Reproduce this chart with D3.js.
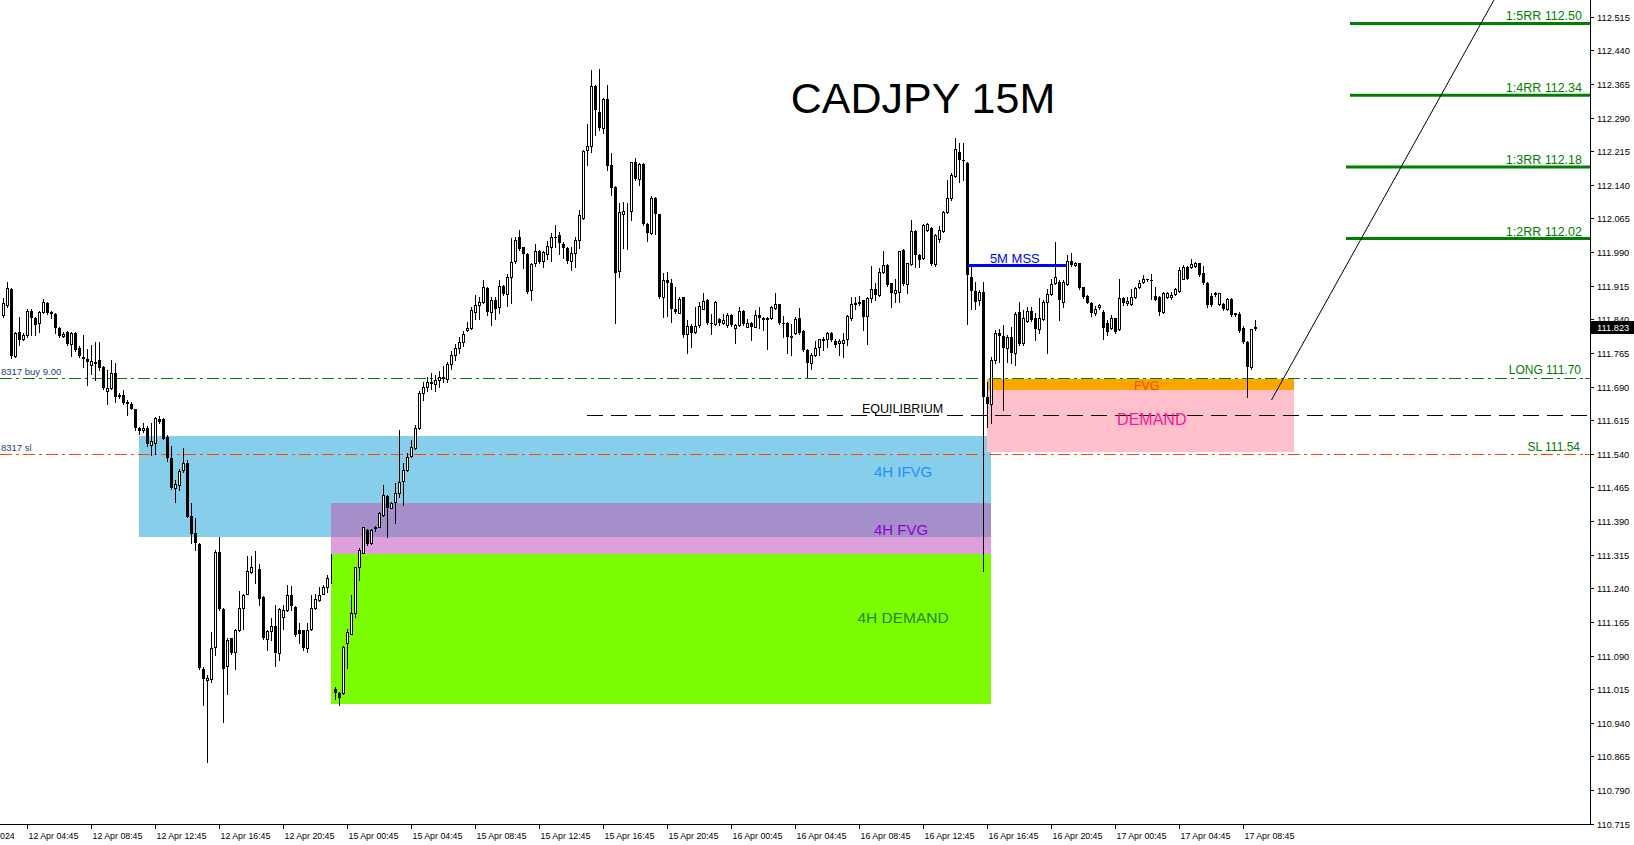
<!DOCTYPE html>
<html><head><meta charset="utf-8">
<script src="https://cdn.jsdelivr.net/npm/d3@7"></script>
<style>
body{margin:0;background:#fff;}
svg{display:block;}
text{font-family:"Liberation Sans",Arial,sans-serif;}
</style>
</head><body>
<svg id="c" width="1634" height="845"></svg>
<script>
// ---------- DATA (CADJPY 15M candles) ----------
const open=[
111.850,111.872,111.907,111.758,111.812,111.795,111.805,111.858,111.842,111.831,
111.857,111.876,111.857,111.851,111.820,111.803,111.811,111.786,111.809,111.777,
111.755,111.751,111.739,111.745,111.749,111.734,111.681,111.686,111.721,111.671,
111.672,111.656,111.652,111.639,111.597,111.592,111.598,111.560,111.565,111.617,
111.617,111.578,111.530,111.463,111.470,111.504,111.519,111.401,111.364,111.339,
111.061,111.036,111.037,111.109,111.321,111.193,111.066,111.128,111.098,111.147,
111.195,111.228,111.277,111.282,111.284,111.221,111.126,111.145,111.156,111.096,
111.175,111.191,111.225,111.199,111.148,111.147,111.106,111.150,111.195,111.214,
111.228,111.242,111.263,111.016,111.007,111.007,111.117,111.139,111.184,111.288,
111.319,111.371,111.340,111.375,111.377,111.403,111.446,111.420,111.433,111.453,
111.480,111.504,111.534,111.552,111.597,111.675,111.690,111.700,111.695,111.705,
111.712,111.706,111.740,111.760,111.775,111.790,111.816,111.820,111.857,111.872,
111.878,111.909,111.857,111.884,111.867,111.914,111.896,111.935,111.969,112.023,
112.001,111.986,111.905,111.965,111.993,111.971,111.986,112.001,112.023,112.028,
112.008,111.998,111.971,111.987,112.018,112.065,112.218,112.227,112.361,112.303,
112.266,112.331,112.184,112.136,111.948,112.076,112.079,112.082,112.190,112.152,
112.186,112.053,112.032,112.111,112.075,111.889,111.928,111.922,111.864,111.855,
111.889,111.808,111.825,111.812,111.828,111.864,111.884,111.832,111.829,111.840,
111.832,111.827,111.849,111.820,111.827,111.859,111.823,111.831,111.823,111.849,
111.842,111.840,111.842,111.866,111.874,111.832,111.831,111.801,111.810,111.842,
111.814,111.771,111.743,111.760,111.779,111.794,111.795,111.810,111.792,111.788,
111.788,111.795,111.842,111.874,111.877,111.883,111.847,111.887,111.907,111.894,
111.946,111.961,111.920,111.898,111.901,111.994,111.919,111.963,112.037,111.983,
111.976,112.039,112.043,111.963,112.020,112.038,112.080,112.110,112.160,112.214,
112.195,112.189,111.935,111.904,111.882,111.902,111.667,111.652,111.750,111.810,
111.802,111.775,111.801,111.764,111.857,111.788,111.837,111.859,111.842,111.818,
111.840,111.879,111.896,111.920,111.924,111.879,111.919,111.969,111.961,111.965,
111.911,111.892,111.877,111.855,111.867,111.857,111.831,111.820,111.842,111.818,
111.887,111.876,111.874,111.889,111.911,111.924,111.929,111.928,111.892,111.889,
111.857,111.889,111.889,111.896,111.904,111.931,111.956,111.956,111.959,111.965,
111.943,111.922,111.892,111.898,111.874,111.874,111.862,111.885,111.853,111.852,
111.820,111.790,111.733,111.820];
const high=[
111.887,111.924,111.909,111.812,111.846,111.809,111.862,111.862,111.846,111.859,
111.885,111.879,111.859,111.853,111.822,111.812,111.814,111.812,111.811,111.780,
111.805,111.773,111.783,111.790,111.790,111.736,111.727,111.749,111.742,111.675,
111.682,111.660,111.656,111.641,111.600,111.609,111.601,111.609,111.622,111.624,
111.619,111.582,111.557,111.481,111.507,111.552,111.526,111.431,111.396,111.340,
111.065,111.046,111.143,111.325,111.355,111.195,111.128,111.130,111.150,111.234,
111.228,111.312,111.312,111.324,111.294,111.222,111.147,111.173,111.202,111.195,
111.202,111.247,111.245,111.200,111.162,111.148,111.163,111.225,111.228,111.243,
111.247,111.269,111.316,111.019,111.009,111.111,111.150,111.225,111.288,111.329,
111.377,111.373,111.373,111.379,111.411,111.470,111.448,111.433,111.474,111.592,
111.520,111.541,111.571,111.604,111.679,111.700,111.712,111.720,111.715,111.725,
111.735,111.745,111.770,111.785,111.800,111.815,111.835,111.868,111.894,111.890,
111.928,111.913,111.889,111.890,111.928,111.916,111.941,112.021,112.024,112.039,
112.002,111.987,111.965,112.008,111.995,111.992,112.015,112.033,112.050,112.035,
112.013,112.002,112.002,112.024,112.084,112.218,112.276,112.396,112.363,112.398,
112.333,112.363,112.210,112.137,112.099,112.102,112.099,112.192,112.199,112.188,
112.188,112.054,112.114,112.112,112.076,111.944,111.946,111.931,111.911,111.890,
111.890,111.838,111.829,111.868,111.879,111.898,111.886,111.852,111.881,111.842,
111.852,111.853,111.851,111.829,111.868,111.861,111.840,111.834,111.860,111.868,
111.846,111.846,111.869,111.898,111.875,111.847,111.834,111.829,111.846,111.866,
111.817,111.773,111.764,111.792,111.797,111.800,111.812,111.812,111.795,111.797,
111.810,111.850,111.890,111.890,111.892,111.884,111.889,111.959,111.920,111.954,
111.993,111.963,111.922,111.929,111.993,111.996,111.966,112.061,112.039,111.985,
112.052,112.054,112.045,112.030,112.048,112.082,112.151,112.166,112.244,112.233,
112.233,112.192,111.957,111.924,111.905,111.924,111.700,111.755,111.816,111.819,
111.827,111.805,111.823,111.857,111.879,111.861,111.868,111.868,111.853,111.887,
111.883,111.907,111.931,112.013,111.928,111.928,111.983,111.989,111.968,111.966,
111.913,111.894,111.879,111.870,111.874,111.861,111.838,111.849,111.844,111.929,
111.890,111.890,111.907,111.911,111.928,111.939,111.931,111.942,111.913,111.892,
111.902,111.902,111.902,111.909,111.956,111.961,111.959,111.974,111.968,111.966,
111.959,111.924,111.899,111.902,111.899,111.877,111.887,111.887,111.855,111.857,
111.824,111.792,111.819,111.838];
const low=[
111.846,111.868,111.753,111.757,111.783,111.794,111.801,111.805,111.805,111.812,
111.855,111.852,111.842,111.809,111.801,111.800,111.783,111.758,111.769,111.755,
111.733,111.693,111.719,111.704,111.727,111.684,111.652,111.684,111.656,111.664,
111.652,111.626,111.639,111.594,111.585,111.589,111.558,111.538,111.540,111.608,
111.572,111.525,111.462,111.433,111.459,111.500,111.398,111.340,111.325,111.061,
110.979,110.853,111.031,111.091,111.191,110.942,111.005,111.094,111.061,111.145,
111.150,111.227,111.275,111.251,111.202,111.126,111.103,111.124,111.066,111.080,
111.150,111.190,111.191,111.133,111.117,111.103,111.098,111.148,111.193,111.212,
111.227,111.232,111.251,110.994,110.979,111.005,111.063,111.138,111.175,111.258,
111.318,111.336,111.339,111.368,111.376,111.402,111.355,111.418,111.386,111.444,
111.426,111.502,111.532,111.551,111.595,111.660,111.680,111.685,111.680,111.690,
111.700,111.700,111.730,111.750,111.765,111.780,111.814,111.818,111.840,111.840,
111.876,111.850,111.827,111.840,111.853,111.894,111.870,111.876,111.966,111.995,
111.954,111.899,111.882,111.959,111.965,111.956,111.974,111.969,112.002,111.986,
111.976,111.965,111.951,111.957,111.998,112.063,112.184,112.214,112.251,112.262,
112.255,112.172,112.117,111.831,111.935,111.998,111.996,112.062,112.151,112.140,
112.050,112.015,112.030,112.030,111.887,111.846,111.847,111.834,111.855,111.853,
111.801,111.765,111.779,111.809,111.823,111.862,111.829,111.808,111.827,111.827,
111.829,111.823,111.825,111.788,111.825,111.827,111.822,111.794,111.822,111.820,
111.816,111.773,111.840,111.864,111.829,111.801,111.764,111.760,111.808,111.808,
111.770,111.712,111.730,111.758,111.760,111.771,111.779,111.792,111.779,111.760,
111.756,111.782,111.838,111.864,111.871,111.816,111.786,111.879,111.883,111.892,
111.944,111.914,111.868,111.879,111.879,111.916,111.898,111.961,111.957,111.957,
111.974,112.038,111.961,111.959,112.013,112.035,112.078,112.106,112.158,112.147,
112.150,111.829,111.862,111.862,111.872,111.278,111.600,111.608,111.743,111.745,
111.637,111.745,111.742,111.738,111.783,111.783,111.835,111.836,111.794,111.809,
111.838,111.764,111.894,111.918,111.838,111.868,111.917,111.959,111.959,111.907,
111.888,111.876,111.847,111.850,111.864,111.795,111.805,111.818,111.810,111.816,
111.873,111.872,111.872,111.887,111.909,111.922,111.925,111.885,111.883,111.850,
111.855,111.887,111.885,111.894,111.902,111.929,111.929,111.954,111.957,111.937,
111.919,111.868,111.870,111.892,111.872,111.861,111.861,111.847,111.847,111.812,
111.788,111.666,111.730,111.817];
const close=[
111.876,111.909,111.758,111.810,111.794,111.805,111.858,111.842,111.827,111.857,
111.879,111.853,111.851,111.820,111.803,111.807,111.786,111.809,111.771,111.758,
111.751,111.745,111.748,111.740,111.731,111.686,111.686,111.721,111.666,111.666,
111.654,111.652,111.641,111.597,111.591,111.598,111.561,111.568,111.619,111.612,
111.574,111.530,111.464,111.473,111.502,111.519,111.400,111.362,111.340,111.063,
111.037,111.039,111.106,111.321,111.193,111.061,111.124,111.096,111.148,111.196,
111.226,111.279,111.287,111.282,111.217,111.128,111.145,111.156,111.096,111.193,
111.191,111.225,111.200,111.135,111.139,111.106,111.148,111.195,111.215,111.225,
111.242,111.262,111.264,111.007,110.996,111.109,111.143,111.185,111.287,111.325,
111.376,111.339,111.371,111.376,111.407,111.448,111.418,111.431,111.453,111.478,
111.504,111.532,111.556,111.597,111.675,111.690,111.700,111.695,111.705,111.712,
111.706,111.740,111.760,111.775,111.790,111.808,111.820,111.861,111.872,111.878,
111.911,111.857,111.882,111.864,111.914,111.896,111.935,111.968,112.018,111.996,
111.985,111.902,111.963,111.992,111.967,111.990,112.004,112.023,112.021,112.010,
111.998,111.971,111.987,112.018,112.073,112.216,112.227,112.361,112.307,112.266,
112.331,112.181,112.132,111.944,112.079,112.081,112.079,112.190,112.152,112.186,
112.052,112.032,112.111,112.074,111.890,111.928,111.922,111.864,111.857,111.886,
111.806,111.825,111.810,111.825,111.869,111.881,111.831,111.829,111.879,111.831,
111.838,111.849,111.827,111.827,111.859,111.829,111.832,111.822,111.849,111.842,
111.838,111.842,111.868,111.875,111.831,111.831,111.800,111.802,111.840,111.810,
111.771,111.743,111.760,111.775,111.795,111.795,111.810,111.794,111.782,111.792,
111.794,111.847,111.874,111.877,111.879,111.846,111.887,111.907,111.894,111.946,
111.961,111.916,111.898,111.905,111.992,111.919,111.965,112.037,111.983,111.972,
112.050,112.052,111.963,112.028,112.039,112.080,112.110,112.162,112.221,112.195,
112.194,111.939,111.904,111.879,111.902,111.667,111.652,111.750,111.810,111.802,
111.775,111.801,111.764,111.852,111.786,111.844,111.859,111.838,111.818,111.842,
111.879,111.896,111.919,111.934,111.882,111.924,111.969,111.961,111.966,111.909,
111.890,111.877,111.853,111.864,111.872,111.820,111.812,111.842,111.812,111.887,
111.876,111.880,111.890,111.909,111.922,111.929,111.928,111.925,111.884,111.857,
111.899,111.899,111.894,111.907,111.951,111.956,111.931,111.963,111.966,111.939,
111.920,111.872,111.872,111.894,111.898,111.862,111.885,111.850,111.850,111.815,
111.790,111.733,111.818,111.823];

const priceTicks=[112.515,112.440,112.365,112.290,112.215,112.140,112.065,111.990,111.915,111.840,
111.765,111.690,111.615,111.540,111.465,111.390,111.315,111.240,111.165,111.090,111.015,110.940,110.865,110.790,110.715];
const timeLabels=["12 Apr 04:45","12 Apr 08:45","12 Apr 12:45","12 Apr 16:45","12 Apr 20:45",
"15 Apr 00:45","15 Apr 04:45","15 Apr 08:45","15 Apr 12:45","15 Apr 16:45","15 Apr 20:45",
"16 Apr 00:45","16 Apr 04:45","16 Apr 08:45","16 Apr 12:45","16 Apr 16:45","16 Apr 20:45",
"17 Apr 00:45","17 Apr 04:45","17 Apr 08:45"];
const firstDateLabel="024";   // visible tail of the first (cut) date label
const firstLabelBar=6, barsPerLabel=16;
const lastPrice=111.823;

// zones: bar index range and price range
const zones=[
 {i0:33.9,i1:246.9,p0:111.5806,p1:111.355,fill:"#87CEEB"},
 {i0:81.9,i1:246.9,p0:111.430,p1:111.317,fill:"#DDA0DD"},
 {i0:81.9,i1:246.9,p0:111.430,p1:111.355,fill:"#A58FCB"},
 {i0:81.9,i1:246.9,p0:111.317,p1:110.9825,fill:"#7CFC00"},
 {i0:245.9,i1:322.6,p0:111.683,p1:111.544,fill:"#FFC0CB"},
 {i0:245.9,i1:322.6,p0:111.707,p1:111.683,fill:"#FFA500"}
];
const zoneLabels=[
 {t:"4H IFVG",i:224.9,p:111.500,size:15,fill:"#1E90FF",anchor:"middle"},
 {t:"4H FVG",i:224.4,p:111.372,size:15,fill:"#9400D3",anchor:"middle"},
 {t:"4H DEMAND",i:224.9,p:111.174,size:15.5,fill:"#228B22",anchor:"middle"},
 {t:"FVG",i:282.6,p:111.692,size:12.5,fill:"#FF4500",anchor:"start"},
 {t:"DEMAND",i:278.4,p:111.618,size:16,fill:"#FF1493",anchor:"start"},
 {t:"EQUILIBRIUM",i:214.6,p:111.640,size:12.5,fill:"#000",anchor:"start"},
 {t:"5M MSS",i:246.6,p:111.975,size:13,fill:"#0000FF",anchor:"start"}
];
const rrLevels=[
 {t:"1:5RR 112.50",p:112.50,i0:336.6},
 {t:"1:4RR 112.34",p:112.34,i0:336.6},
 {t:"1:3RR 112.18",p:112.18,i0:335.6},
 {t:"1:2RR 112.02",p:112.02,i0:335.6}
];
const longLevel={t:"LONG 111.70",p:111.708,tag:"8317 buy 9.00"};
const slLevel={t:"SL 111.54",p:111.540,tag:"8317 sl"};
const equilibrium={p:111.6265,i0:145.9};
const mss={p:111.960,i0:241.1,i1:265.6};
const trend=[{i:317.0,p:111.660},{i:372.6,p:112.552}];

// ---------- DRAW ----------
const W=1634,H=845, R=1590, B=824;
const svg=d3.select("#c");
const x=d3.scaleLinear().domain([0,1]).range([3.5,7.5]);
const y=d3.scaleLinear().domain([110.715,112.515]).range([823.65,16.7]);
const ry=p=>Math.round(y(p));

svg.append("defs").append("clipPath").attr("id","clip")
  .append("rect").attr("x",0).attr("y",0).attr("width",R).attr("height",B);
const g=svg.append("g").attr("clip-path","url(#clip)");

// zones
g.selectAll("rect.zone").data(zones).enter().append("rect")
 .attr("x",d=>Math.round(x(d.i0))).attr("width",d=>Math.round(x(d.i1))-Math.round(x(d.i0)))
 .attr("y",d=>ry(d.p0)).attr("height",d=>ry(d.p1)-ry(d.p0))
 .attr("fill",d=>d.fill);

// level lines
function hline(p,x0,x1,color,dash,w){
  g.append("line").attr("x1",x0).attr("x2",x1)
   .attr("y1",ry(p)+0.5).attr("y2",ry(p)+0.5)
   .attr("stroke",color).attr("stroke-width",w||1)
   .attr("stroke-dasharray",dash||null).attr("shape-rendering","crispEdges");
}
hline(longLevel.p,0,R,"#008000","12,4,3,4");
hline(slLevel.p,0,R,"#FF4500","12,4,3,4");
hline(equilibrium.p,Math.round(x(equilibrium.i0)),R,"#000","16,8");

// candles
const idx=d3.range(close.length);
const cg=g.append("g").attr("shape-rendering","crispEdges");
cg.selectAll("line.w").data(idx).enter().append("line")
 .attr("x1",i=>x(i)).attr("x2",i=>x(i))
 .attr("y1",i=>ry(high[i])).attr("y2",i=>ry(low[i])+1)
 .attr("stroke","#000").attr("stroke-width",1);
cg.selectAll("rect.b").data(idx).enter().append("rect")
 .each(function(i){
   const up=close[i]>=open[i];
   const t=ry(Math.max(open[i],close[i])), b=ry(Math.min(open[i],close[i]));
   const s=d3.select(this);
   if(up){
     s.attr("x",x(i)-1).attr("width",2).attr("y",t+0.5).attr("height",Math.max(b-t,0))
      .attr("fill","#fff").attr("stroke","#000").attr("stroke-width",1);
   } else {
     s.attr("x",x(i)-1.5).attr("width",3).attr("y",t).attr("height",Math.max(b-t,1))
      .attr("fill","#000");
   }
 });

// MSS line
g.append("line").attr("x1",x(mss.i0)).attr("x2",x(mss.i1))
 .attr("y1",y(mss.p)).attr("y2",y(mss.p)).attr("stroke","#0000FF").attr("stroke-width",3);

// RR lines
rrLevels.forEach(d=>{
  g.append("line").attr("x1",Math.round(x(d.i0))).attr("x2",R)
   .attr("y1",y(d.p)).attr("y2",y(d.p)).attr("stroke","#008000").attr("stroke-width",3);
  g.append("text").attr("x",1582).attr("y",y(d.p)-3).attr("text-anchor","end")
   .attr("font-size",12.5).attr("fill","#008000").text(d.t);
});

// trend line
g.append("line").attr("x1",x(trend[0].i)).attr("y1",y(trend[0].p))
 .attr("x2",x(trend[1].i)).attr("y2",y(trend[1].p)).attr("stroke","#000").attr("stroke-width",1);

// zone labels
zoneLabels.forEach(d=>{
  g.append("text").attr("x",x(d.i)).attr("y",y(d.p)+d.size*0.36)
   .attr("text-anchor",d.anchor).attr("font-size",d.size).attr("fill",d.fill).text(d.t);
});

// level labels
g.append("text").attr("x",1581).attr("y",ry(longLevel.p)-4).attr("text-anchor","end")
 .attr("font-size",12).attr("fill","#008000").text(longLevel.t);
g.append("text").attr("x",1580).attr("y",ry(slLevel.p)-3).attr("text-anchor","end")
 .attr("font-size",12).attr("fill","#008000").text(slLevel.t);
g.append("text").attr("x",1).attr("y",ry(longLevel.p)-3).attr("font-size",9.5)
 .attr("fill","#24426E").text(longLevel.tag);
g.append("text").attr("x",1).attr("y",ry(slLevel.p)-3).attr("font-size",9.5)
 .attr("fill","#24426E").text(slLevel.tag);

// title
svg.append("text").attr("x",923).attr("y",113).attr("text-anchor","middle")
 .attr("font-size",43).attr("fill","#000").text("CADJPY 15M");

// axes frame
svg.append("line").attr("x1",R+0.5).attr("x2",R+0.5).attr("y1",0).attr("y2",B+1)
 .attr("stroke","#000").attr("shape-rendering","crispEdges");
svg.append("line").attr("x1",0).attr("x2",R+1).attr("y1",B+0.5).attr("y2",B+0.5)
 .attr("stroke","#000").attr("shape-rendering","crispEdges");

// right price axis
const pa=svg.append("g");
priceTicks.forEach(p=>{
  const yy=Math.min(ry(p),831);
  pa.append("line").attr("x1",R).attr("x2",R+4).attr("y1",yy+0.5).attr("y2",yy+0.5)
   .attr("stroke","#000").attr("shape-rendering","crispEdges");
  pa.append("text").attr("x",1597).attr("y",yy+3.5).attr("font-size",9.3).attr("fill","#000")
   .text(p.toFixed(3));
});
// level markers on axis
pa.append("line").attr("x1",R-5).attr("x2",R-1).attr("y1",ry(longLevel.p)+0.5).attr("y2",ry(longLevel.p)+0.5)
 .attr("stroke","#008000").attr("shape-rendering","crispEdges");
pa.append("line").attr("x1",R-5).attr("x2",R-1).attr("y1",ry(slLevel.p)+0.5).attr("y2",ry(slLevel.p)+0.5)
 .attr("stroke","#FF4500").attr("shape-rendering","crispEdges");
// last price box
const ly=ry(lastPrice);
pa.append("rect").attr("x",R+1).attr("y",ly-6).attr("width",W-R-1).attr("height",13).attr("fill","#000");
pa.append("text").attr("x",1597).attr("y",ly+3.5).attr("font-size",9.3).attr("fill","#fff").text(lastPrice.toFixed(3));

// bottom time axis
const ta=svg.append("g");
timeLabels.forEach((t,k)=>{
  const i=firstLabelBar+k*barsPerLabel;
  const xx=Math.round(x(i));
  ta.append("line").attr("x1",xx-0.5).attr("x2",xx-0.5).attr("y1",B).attr("y2",B+5)
   .attr("stroke","#000").attr("shape-rendering","crispEdges");
  ta.append("text").attr("x",xx+0.5).attr("y",839).attr("font-size",8.8).attr("fill","#000").text(t);
});
ta.append("text").attr("x",0).attr("y",839).attr("font-size",8.8)
 .attr("fill","#000").text(firstDateLabel);
</script>
</body></html>
